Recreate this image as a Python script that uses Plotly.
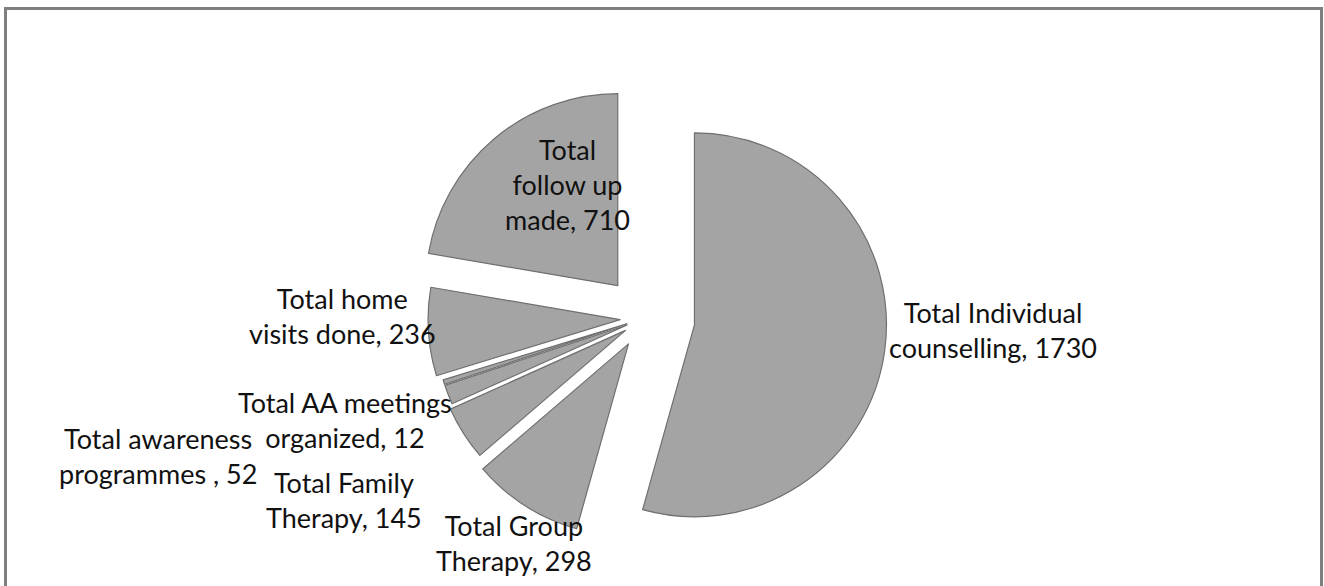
import plotly.graph_objects as go

# Data
categories = [
    "Total Individual counselling",
    "Total Group Therapy",
    "Total Family Therapy",
    "Total awareness programmes ",
    "Total AA meetings organized",
    "Total home visits done",
    "Total follow up made",
]
values = [1730, 298, 145, 52, 12, 236, 710]
label_text = [
    "Total Individual<br>counselling, 1730",
    "Total Group<br>Therapy, 298",
    "Total Family<br>Therapy, 145",
    "Total awareness<br>programmes , 52",
    "Total AA meetings<br>organized, 12",
    "Total home<br>visits done, 236",
    "Total<br>follow up<br>made, 710",
]
pulls = [0.26, 0.16, 0.12, 0.1, 0.1, 0.13, 0.22]

W, H = 1324, 586
FONT = "Lato, 'Open Sans', sans-serif"

# pie geometry (pixels)
cx, cy, r = 645, 318, 192
half = r * (2 + 2 * max(pulls)) / 2
dom_x = [(cx - half) / W, (cx + half) / W]
dom_y = [max(0, 1 - (cy + half) / H), min(1, 1 - (cy - half) / H)]

fig = go.Figure(
    go.Pie(
        labels=categories,
        values=values,
        sort=False,
        direction="clockwise",
        rotation=0,
        pull=pulls,
        textinfo="none",
        marker=dict(colors=["#a4a4a4"] * len(values),
                    line=dict(color="#6f6f6f", width=1.2)),
        domain=dict(x=dom_x, y=dom_y),
        showlegend=False,
    )
)

# label positions (pixels) -> paper
label_pos = [
    (993, 330),
    (514, 543),
    (344, 500),
    (158, 456),
    (345, 420),
    (342, 316),
    (567, 184),
]
for txt, (px, py) in zip(label_text, label_pos):
    fig.add_annotation(
        x=px / W, y=1 - py / H, xref="paper", yref="paper",
        text=txt, showarrow=False, align="center",
        xanchor="center", yanchor="middle",
        font=dict(family=FONT, size=27, color="#111111"),
    )

# outer frame
fig.add_shape(
    type="rect", xref="paper", yref="paper",
    x0=5.5 / W, x1=1321.5 / W, y0=-0.05, y1=1 - 8.5 / H,
    line=dict(color="#7f7f7f", width=3), fillcolor="rgba(0,0,0,0)",
)

fig.update_layout(
    width=W, height=H,
    margin=dict(l=0, r=0, t=0, b=0),
    paper_bgcolor="white",
    plot_bgcolor="white",
)

fig.write_html(
    "out.html",
    config={"displayModeBar": False},
    post_script="document.body.style.margin='0';document.body.style.overflow='hidden';",
)
